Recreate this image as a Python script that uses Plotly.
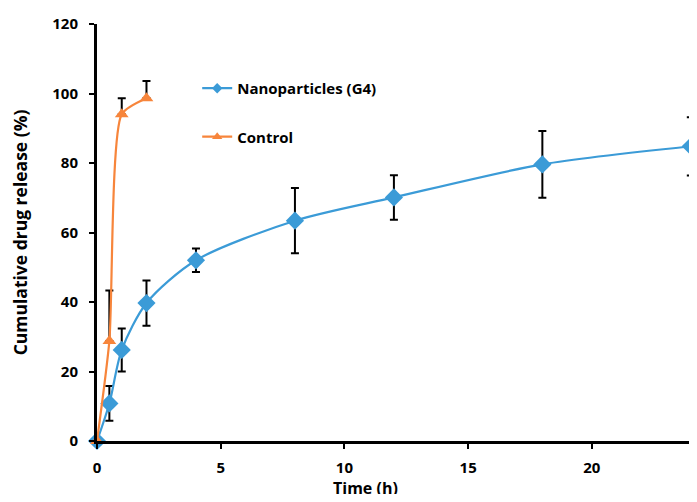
import plotly.graph_objects as go

time_np = [0, 0.5, 1, 2, 4, 8, 12, 18, 24]
release_np = [0, 10.8, 26.2, 39.7, 52.0, 63.4, 70.1, 79.6, 84.8]
err_np = [0, 5.0, 6.2, 6.5, 3.4, 9.4, 6.4, 9.6, 8.4]

time_ctrl = [0, 0.5, 1, 2]
release_ctrl = [0, 28.8, 94.0, 98.6]
err_ctrl = [0, 14.5, 4.6, 5.0]

x_ticks = [0, 5, 10, 15, 20]
y_ticks = [0, 20, 40, 60, 80, 100, 120]

BLUE = "#3b9bd7"
ORANGE = "#f7853b"
FONT = "Open Sans"

fig = go.Figure()
fig.add_trace(go.Scatter(
    x=time_np, y=release_np, name="Nanoparticles (G4)", showlegend=False,
    mode="lines+markers", line=dict(color=BLUE, width=2.2, shape="spline", smoothing=0.8),
    marker=dict(symbol="diamond", size=14, color=BLUE),
    error_y=dict(type="data", array=err_np, color="black", thickness=2, width=4),
    cliponaxis=False,
))
fig.add_trace(go.Scatter(
    x=time_ctrl, y=release_ctrl, name="Control", showlegend=False,
    mode="lines+markers", line=dict(color=ORANGE, width=2.2, shape="spline", smoothing=0.6),
    marker=dict(symbol="triangle-up", size=12, color=ORANGE),
    error_y=dict(type="data", array=err_ctrl, arrayminus=[0, 0, 0, 0], symmetric=False,
                 color="black", thickness=2, width=4),
    cliponaxis=False,
))
# legend entries (smaller markers as in the reference legend)
fig.add_trace(go.Scatter(
    x=[None], y=[None], name="Nanoparticles (G4)", legendgroup="a",
    mode="lines+markers", line=dict(color=BLUE, width=2.2),
    marker=dict(symbol="diamond", size=8, color=BLUE),
))
fig.add_trace(go.Scatter(
    x=[None], y=[None], name="Control", legendgroup="b",
    mode="lines+markers", line=dict(color=ORANGE, width=2.2),
    marker=dict(symbol="triangle-up", size=9, color=ORANGE),
))

fig.update_layout(
    width=689, height=486,
    margin=dict(l=89, r=0, t=16, b=53, autoexpand=False),
    paper_bgcolor="white", plot_bgcolor="white",
    font=dict(family=FONT, size=15, color="black"),
    showlegend=True,
    legend=dict(x=0.167, y=0.885, xanchor="left", yanchor="top",
                bgcolor="rgba(0,0,0,0)", tracegroupgap=26,
                font=dict(family=FONT, size=15, color="black", weight="bold"),
                itemwidth=30),
    xaxis=dict(range=[0, 24.25], tickvals=x_ticks, showgrid=False, zeroline=False,
               showline=True, linecolor="black", linewidth=3, automargin=False,
               ticks="outside", ticklen=5, tickwidth=2, tickcolor="black",
               ticklabelstandoff=6,
               tickfont=dict(family=FONT, size=15, weight="bold")),
    yaxis=dict(range=[0, 120], tickvals=y_ticks, showgrid=False, zeroline=False,
               showline=True, linecolor="black", linewidth=3, automargin=False,
               ticks="outside", ticklen=5, tickwidth=2, tickcolor="black",
               ticklabelstandoff=8,
               tickfont=dict(family=FONT, size=15, weight="bold"),
               title=dict(text="Cumulative drug release (%)", font=dict(family=FONT, size=17.5, weight="bold"), standoff=22)),
    annotations=[dict(text="Time (h)", xref="paper", yref="paper", x=0.448, y=-0.112,
                      xanchor="center", yanchor="middle", showarrow=False,
                      font=dict(family=FONT, size=16, weight="bold", color="black"))],
)

fig.write_html("out.html")
